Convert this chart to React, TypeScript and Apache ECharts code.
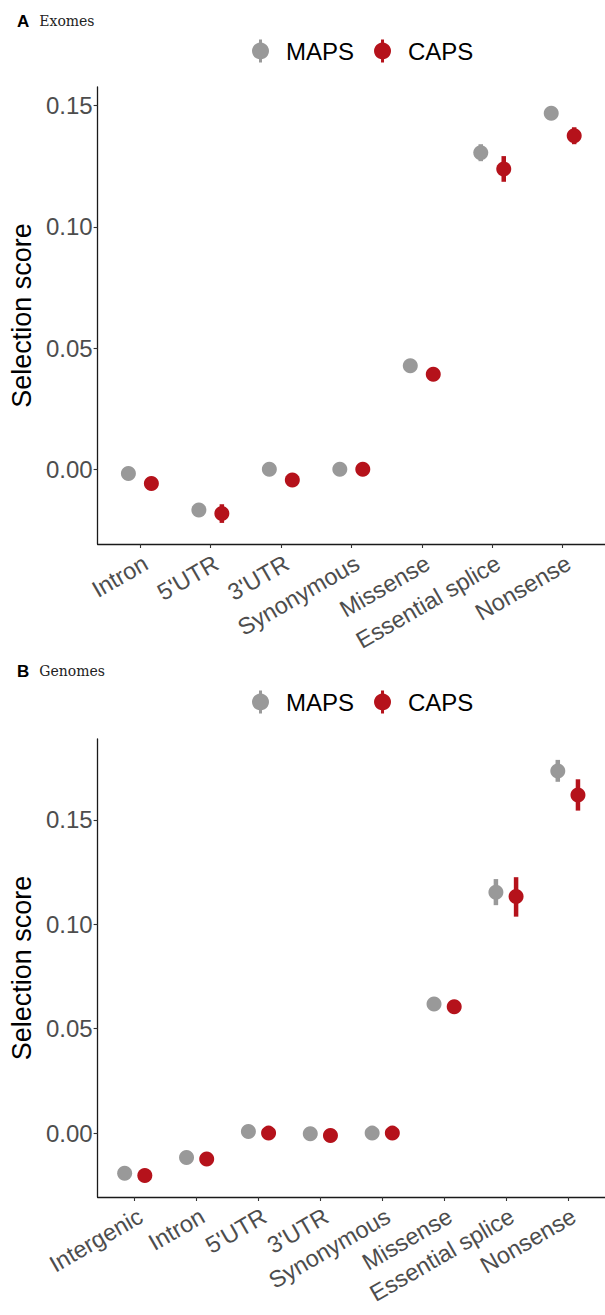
import React, { useEffect, useRef } from "react";
import * as echarts from "echarts";

// ---------- data ----------
const exomeCategories = ["Intron", "5'UTR", "3'UTR", "Synonymous", "Missense", "Essential splice", "Nonsense"];
const genomeCategories = ["Intergenic", "Intron", "5'UTR", "3'UTR", "Synonymous", "Missense", "Essential splice", "Nonsense"];

const exomeMaps = [-0.0017, -0.0168, 0.0, 0.0, 0.0427, 0.1306, 0.1469];
const exomeMapsLow = [-0.0019, -0.0172, -0.0002, -0.0001, 0.0424, 0.1271, 0.1454];
const exomeMapsHigh = [-0.0015, -0.0164, 0.0002, 0.0001, 0.043, 0.1341, 0.1484];
const exomeCaps = [-0.0058, -0.0182, -0.0044, 0.0, 0.0392, 0.1239, 0.1376];
const exomeCapsLow = [-0.0061, -0.0221, -0.0048, -0.0002, 0.0388, 0.1186, 0.1341];
const exomeCapsHigh = [-0.0055, -0.0144, -0.004, 0.0002, 0.0396, 0.1292, 0.1411];

const genomeMaps = [-0.0192, -0.0117, 0.0008, -0.0003, 0.0, 0.0619, 0.1154, 0.1735];
const genomeMapsLow = [-0.0195, -0.012, 0.0002, -0.0007, -0.0002, 0.0614, 0.1092, 0.1683];
const genomeMapsHigh = [-0.0189, -0.0114, 0.0014, 0.0001, 0.0002, 0.0624, 0.1217, 0.1788];
const genomeCaps = [-0.0203, -0.0124, 0.0, -0.0011, 0.0, 0.0605, 0.1133, 0.162];
const genomeCapsLow = [-0.0207, -0.0128, -0.0006, -0.0016, -0.0003, 0.06, 0.1037, 0.1545];
const genomeCapsHigh = [-0.0199, -0.012, 0.0006, -0.0006, 0.0003, 0.061, 0.1226, 0.1695];

const yTickValues = [0, 0.05, 0.1, 0.15];
const seriesNames = ["MAPS", "CAPS"];

// ---------- style ----------
const GREY = "#999999";
const RED = "#B5121B";
const FONT = "Liberation Sans";
const DODGE = 0.163;
const LEGEND_ICON = "path://M8.5,3 A8.5,8.5 0 1,1 8.49,3 Z M7,0 H10 V23 H7 Z";

function rows(vals: number[], lo: number[], hi: number[]) {
  return vals.map((v, i) => [i, v, lo[i], hi[i]]);
}

function makeRender(offset: number, color: string) {
  return (params: any, api: any) => {
    const x = api.value(0) + offset;
    const c = api.coord([x, api.value(1)]);
    const lo = api.coord([x, api.value(2)]);
    const hi = api.coord([x, api.value(3)]);
    return {
      type: "group",
      children: [
        {
          type: "line",
          shape: { x1: c[0], y1: lo[1], x2: c[0], y2: hi[1] },
          style: { stroke: color, lineWidth: 4.5 },
        },
        {
          type: "circle",
          shape: { cx: c[0], cy: c[1], r: 7.5 },
          style: { fill: color },
        },
      ],
    };
  };
}

function xAxisFor(cats: string[], gridIndex: number) {
  const idx = cats.map((_, i) => i);
  return {
    type: "value",
    gridIndex,
    min: -0.6,
    max: cats.length - 1 + 0.6,
    splitLine: { show: false },
    axisLine: { onZero: false, lineStyle: { color: "#1a1a1a", width: 1.3 } },
    axisTick: { customValues: idx, length: 4, lineStyle: { color: "#333333", width: 1.1 } },
    axisLabel: {
      customValues: idx,
      formatter: (v: number) => cats[Math.round(v)] ?? "",
      rotate: 30,
      align: "right",
      verticalAlign: "top",
      fontFamily: FONT,
      fontSize: 23.5,
      color: "#4D4D4D",
      margin: 7,
    },
  };
}

function yAxisFor(gridIndex: number, min: number, max: number) {
  return {
    type: "value",
    gridIndex,
    min,
    max,
    name: "Selection score",
    nameLocation: "middle",
    nameGap: 60,
    nameTextStyle: { fontFamily: FONT, fontSize: 27, color: "#000000" },
    splitLine: { show: false },
    axisLine: { show: true, onZero: false, lineStyle: { color: "#1a1a1a", width: 1.3 } },
    axisTick: { show: true, customValues: yTickValues, length: 4, lineStyle: { color: "#333333", width: 1.1 } },
    axisLabel: {
      customValues: yTickValues,
      formatter: (v: number) => v.toFixed(2),
      fontFamily: FONT,
      fontSize: 24,
      color: "#4D4D4D",
      margin: 5,
    },
  };
}

function legendAt(top: number) {
  return {
    top,
    left: 247,
    orient: "horizontal",
    itemWidth: 17,
    itemHeight: 23,
    itemGap: 20,
    selectedMode: false,
    textStyle: { fontFamily: FONT, fontSize: 24, color: "#000000", padding: [0, 0, 0, 12] },
    data: seriesNames.map((n) => ({ name: n, icon: LEGEND_ICON })),
  };
}

function panelTitle(letter: string, label: string, top: number) {
  return {
    left: 12,
    top,
    text: `{a|${letter}}  {b|${label}}`,
    textStyle: {
      rich: {
        a: { fontFamily: FONT, fontWeight: "bold", fontSize: 17, color: "#000" },
        b: { fontFamily: "DejaVu Serif", fontWeight: "normal", fontSize: 14, color: "#222" },
      },
    },
  };
}

export default function App() {
  const ref = useRef<HTMLDivElement>(null);

  useEffect(() => {
    if (!ref.current) return;
    const chart = echarts.init(ref.current, null, { renderer: "svg" });
    const option: any = {
      animation: false,
      backgroundColor: "#ffffff",
      title: [panelTitle("A", "Exomes", 7), panelTitle("B", "Genomes", 657)],
      legend: [legendAt(34), legendAt(685)],
      grid: [
        { left: 97.5, top: 87, width: 509, height: 457 },
        { left: 97.5, top: 739, width: 509, height: 458 },
      ],
      xAxis: [xAxisFor(exomeCategories, 0), xAxisFor(genomeCategories, 1)],
      yAxis: [yAxisFor(0, -0.0308, 0.1577), yAxisFor(1, -0.0306, 0.1888)],
      series: [
        {
          name: "MAPS",
          type: "custom",
          xAxisIndex: 0,
          yAxisIndex: 0,
          itemStyle: { color: GREY },
          encode: { x: 0, y: 1 },
          renderItem: makeRender(-DODGE, GREY),
          data: rows(exomeMaps, exomeMapsLow, exomeMapsHigh),
        },
        {
          name: "CAPS",
          type: "custom",
          xAxisIndex: 0,
          yAxisIndex: 0,
          itemStyle: { color: RED },
          encode: { x: 0, y: 1 },
          renderItem: makeRender(DODGE, RED),
          data: rows(exomeCaps, exomeCapsLow, exomeCapsHigh),
        },
        {
          name: "MAPS",
          type: "custom",
          xAxisIndex: 1,
          yAxisIndex: 1,
          itemStyle: { color: GREY },
          encode: { x: 0, y: 1 },
          renderItem: makeRender(-DODGE, GREY),
          data: rows(genomeMaps, genomeMapsLow, genomeMapsHigh),
        },
        {
          name: "CAPS",
          type: "custom",
          xAxisIndex: 1,
          yAxisIndex: 1,
          itemStyle: { color: RED },
          encode: { x: 0, y: 1 },
          renderItem: makeRender(DODGE, RED),
          data: rows(genomeCaps, genomeCapsLow, genomeCapsHigh),
        },
      ],
    };
    chart.setOption(option);
    return () => chart.dispose();
  }, []);

  return (
    <div
      ref={ref}
      style={{ position: "absolute", left: 0, top: 0, width: 605, height: 1315, background: "#fff" }}
    />
  );
}
